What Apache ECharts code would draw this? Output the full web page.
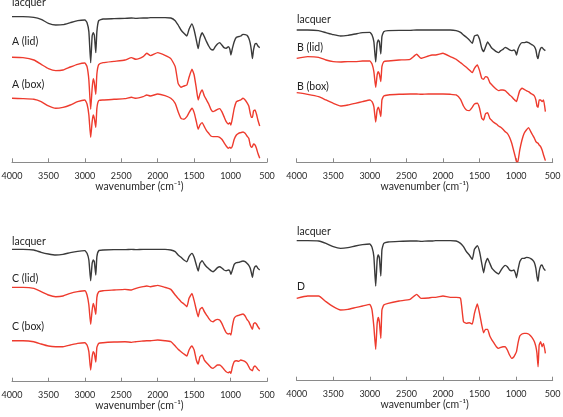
<!DOCTYPE html>
<html>
<head>
<meta charset="utf-8">
<script src="https://cdn.jsdelivr.net/npm/echarts@6/dist/echarts.min.js"></script>
<style>
html,body{margin:0;padding:0;background:#fff;}
#chart{width:563px;height:417px;}
</style>
</head>
<body>
<div id="chart"></div>
<script>
// Wavenumber grid (cm-1), shared by all spectra
const wn = [
  4000, 3850, 3700, 3600, 3500, 3400, 3300, 3200, 3100, 3000,
  2970, 2945, 2920, 2900, 2885, 2870, 2850, 2835, 2810, 2750,
  2600, 2450, 2360, 2300, 2200, 2150, 2100, 2000, 1900, 1820,
  1760, 1720, 1680, 1640, 1600, 1570, 1530, 1500, 1470, 1445,
  1420, 1390, 1360, 1330, 1300, 1270, 1240, 1210, 1180, 1150,
  1120, 1090, 1060, 1030, 1010, 995, 975, 950, 920, 890,
  860, 830, 800, 775, 750, 730, 715, 700, 685, 665,
  645, 625, 600
];
// Offset absorbance-like values (arbitrary units, larger = lower on the plot)
const lacquerA = [
  50, 50, 52, 58, 70, 75, 74, 68, 62, 60,
  68, 95, 188, 108, 98, 105, 158, 95, 62, 57,
  56, 55, 54, 55, 54, 54, 53, 53, 53, 54,
  62, 75, 90, 100, 108, 88, 72, 90, 120, 146,
  115, 98, 110, 125, 138, 148, 150, 140, 132, 128,
  135, 143, 145, 140, 148, 165, 145, 125, 112, 110,
  108, 103, 104, 106, 115, 130, 150, 176, 150, 132,
  130, 138, 143
];
const lidA = [
  172, 173, 180, 193, 206, 212, 210, 201, 193, 189,
  200, 240, 328, 265, 236, 248, 283, 222, 194, 188,
  184, 180, 173, 178, 170, 160, 167, 158, 166, 176,
  200, 250, 262, 258, 255, 232, 208, 225, 265, 300,
  282, 270, 288, 300, 312, 328, 335, 332, 328, 326,
  335, 350, 365, 372, 368, 375, 355, 325, 305, 302,
  300, 295, 300, 308, 318, 340, 352, 352, 333, 330,
  342, 360, 378
];
const boxA = [
  295, 296, 298, 305, 318, 325, 322, 315, 305, 300,
  312, 345, 412, 365, 345, 355, 382, 325, 302, 300,
  298, 296, 292, 295, 290, 285, 288, 282, 287, 295,
  310, 335, 355, 358, 350, 338, 325, 338, 365, 388,
  375, 368, 380, 392, 400, 408, 410, 410, 410, 412,
  418, 428, 438, 445, 442, 445, 438, 418, 405, 400,
  398, 396, 400, 408, 415, 435, 442, 440, 432, 435,
  445, 460, 475
];
const lacquerB = [
  90, 90, 92, 98, 104, 108, 106, 102, 98, 97,
  105, 125, 186, 130, 120, 125, 162, 110, 95, 92,
  91, 91, 90, 90, 90, 90, 90, 90, 90, 92,
  97, 105, 112, 120, 130, 108, 105, 118, 145, 155,
  142, 126, 135, 145, 150, 155, 158, 152, 148, 142,
  145, 150, 152, 150, 155, 165, 148, 135, 128, 128,
  126, 128, 132, 135, 140, 150, 168, 176, 158, 145,
  142, 148, 152
];
const lidB = [
  175, 170, 172, 180, 185, 186, 185, 185, 183, 183,
  192, 215, 262, 225, 215, 222, 245, 200, 185, 183,
  180, 178, 163, 175, 168, 165, 165, 160, 170, 178,
  188, 195, 202, 210, 218, 205, 195, 212, 235, 238,
  230, 232, 248, 255, 262, 268, 272, 270, 270, 272,
  278, 285, 290, 298, 302, 305, 290, 272, 265, 268,
  272, 275, 280, 283, 288, 300, 318, 322, 300, 300,
  305, 300, 335
];
const boxB = [
  278, 283, 290, 300, 310, 318, 315, 310, 305, 300,
  305, 320, 366, 330, 322, 330, 350, 300, 288, 285,
  283, 282, 282, 283, 282, 282, 282, 282, 283, 285,
  298, 318, 330, 332, 322, 312, 310, 325, 355, 360,
  342, 338, 355, 362, 368, 372, 378, 382, 388, 395,
  400, 412, 430, 455, 472, 485, 484, 450, 420, 400,
  390, 383, 395, 405, 415, 425, 428, 430, 435, 440,
  450, 465, 482
];
const lacquerC = [
  118, 118, 120, 127, 132, 135, 133, 128, 124, 122,
  130, 150, 212, 160, 150, 155, 195, 140, 122, 120,
  119, 119, 118, 119, 118, 118, 118, 118, 118, 120,
  125, 135, 142, 150, 155, 140, 130, 142, 165, 183,
  160, 152, 162, 170, 176, 182, 185, 180, 173, 170,
  174, 180, 182, 180, 183, 193, 180, 163, 158, 157,
  155, 153, 155, 160, 166, 175, 188, 202, 182, 170,
  168, 175, 180
];
const lidC = [
  232, 232, 235, 245, 255, 260, 258, 250, 245, 242,
  255, 285, 343, 300, 280, 290, 313, 262, 245, 242,
  240, 238, 240, 235, 230, 228, 230, 226, 232, 238,
  255, 265, 275, 282, 290, 265, 250, 272, 300, 320,
  298, 292, 305, 315, 325, 333, 335, 330, 328, 330,
  340, 355, 368, 372, 370, 375, 348, 325, 318, 316,
  314, 312, 318, 328, 335, 345, 352, 358, 342, 338,
  342, 350, 358
];
const boxC = [
  392, 392, 395, 402, 408, 410, 410, 405, 400, 398,
  405, 425, 480, 440, 425, 430, 456, 412, 400, 398,
  396, 395, 397, 395, 393, 392, 392, 390, 392, 395,
  408, 418, 425, 432, 438, 420, 408, 420, 450, 462,
  440, 435, 450, 458, 465, 472, 475, 470, 465, 465,
  470, 478, 485, 488, 485, 490, 470, 455, 452, 454,
  450, 452, 455, 460, 470, 478, 480, 482, 472, 468,
  472, 478, 483
];
const lacquerD = [
  92, 92, 93, 100, 110, 115, 113, 108, 104, 102,
  112, 140, 228, 150, 135, 142, 198, 120, 100, 96,
  94, 93, 93, 94, 93, 93, 92, 92, 92, 93,
  100, 110, 125, 135, 148, 118, 107, 125, 160, 188,
  160, 145, 160, 175, 182, 188, 192, 182, 172, 166,
  170, 180, 182, 180, 190, 203, 180, 155, 145, 145,
  142, 143, 146, 150, 158, 175, 200, 214, 185, 168,
  165, 175, 182
];
const sampleD = [
  265, 258, 258, 275, 290, 300, 298, 293, 288, 283,
  300, 350, 418, 340, 322, 335, 385, 300, 285, 280,
  273, 268, 253, 265, 264, 262, 262, 258, 262, 262,
  265, 335, 340, 338, 342, 310, 282, 310, 345, 368,
  358, 358, 378, 390, 400, 410, 415, 412, 410, 410,
  420, 435, 445, 440, 432, 425, 400, 378, 372, 370,
  370, 372, 378, 385, 395, 410, 430, 470, 405, 395,
  410, 400, 430
];
const xTicks = ['4000', '3500', '3000', '2500', '2000', '1500', '1000', '500'];

const panels = [
  {grid: {left: 12, width: 255, top: 10, height: 152.3}, yMax: 487,
   series: [[lacquerA, 'k'], [lidA, 'r'], [boxA, 'r']],
   labels: [['lacquer', 12, 3.5], ['A (lid)', 12, 42.5], ['A (box)', 12, 86]]},
  {grid: {left: 296.7, width: 256, top: 10, height: 152.3}, yMax: 487,
   series: [[lacquerB, 'k'], [lidB, 'r'], [boxB, 'r']],
   labels: [['lacquer', 297, 20.5], ['B (lid)', 297, 49], ['B (box)', 297, 87.5]]},
  {grid: {left: 12, width: 255, top: 220, height: 161.7}, yMax: 515,
   series: [[lacquerC, 'k'], [lidC, 'r'], [boxC, 'r']],
   labels: [['lacquer', 12, 242.5], ['C (lid)', 12, 280], ['C (box)', 12, 327.5]]},
  {grid: {left: 296.7, width: 256, top: 220, height: 160.7}, yMax: 512,
   series: [[lacquerD, 'k'], [sampleD, 'r']],
   labels: [['lacquer', 297, 232.5], ['D', 297, 288]]}
];

const FONT = 'Lato, "Open Sans", sans-serif';
const BLACK = '#3a3a3a';
const RED = '#ee3b2e';

const option = {
  animation: false,
  backgroundColor: '#ffffff',
  grid: [], xAxis: [], yAxis: [], series: [], graphic: []
};

panels.forEach((p, i) => {
  option.grid.push(Object.assign({outerBoundsMode: 'none', containLabel: false}, p.grid));
  option.xAxis.push({
    gridIndex: i, type: 'value', min: 500, max: 4000, interval: 500, inverse: true,
    axisLine: {show: true, lineStyle: {color: '#8a8a8a', width: 1}},
    axisTick: {show: true, inside: true, length: 4, lineStyle: {color: '#8a8a8a', width: 1}},
    axisLabel: {fontSize: 9, color: '#2a2a2a', margin: 9, fontFamily: FONT,
      formatter: v => xTicks.includes(String(v)) ? String(v) : ''},
    splitLine: {show: false},
    name: 'wavenumber (cm⁻¹)', nameLocation: 'middle', nameGap: 18,
    nameTextStyle: {fontSize: 10.5, color: '#2a2a2a', fontFamily: FONT}
  });
  option.yAxis.push({gridIndex: i, type: 'value', min: 30, max: p.yMax, inverse: true, show: false});
  p.series.forEach(([vals, c]) => {
    option.series.push({
      type: 'line', xAxisIndex: i, yAxisIndex: i,
      data: wn.map((w, k) => [w, vals[k]]),
      showSymbol: false, symbol: 'none', smooth: 0.15,
      lineStyle: {color: c === 'k' ? BLACK : RED, width: 1.4},
      silent: true
    });
  });
  p.labels.forEach(([t, x, y]) => {
    option.graphic.push({type: 'text', left: x, top: y - 6.5,
      style: {text: t, fontSize: 10.5, fontFamily: FONT, fill: '#222'}});
  });
});

const chart = echarts.init(document.getElementById('chart'), null, {renderer: 'canvas'});
chart.setOption(option);
</script>
</body>
</html>
